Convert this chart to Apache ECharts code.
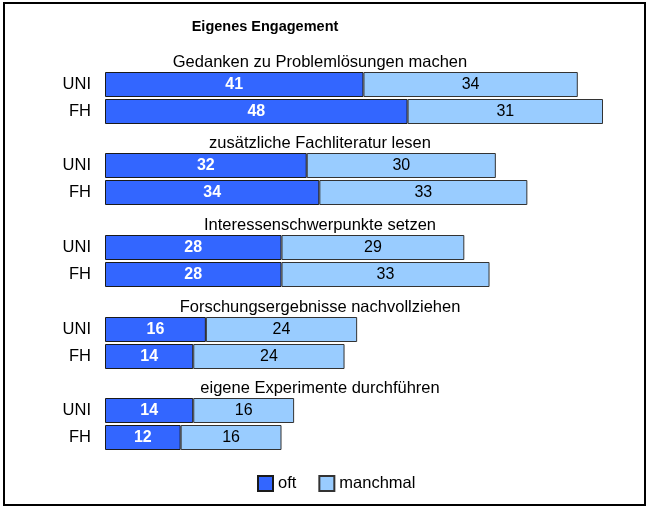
<!DOCTYPE html>
<html>
<head>
<meta charset="utf-8">
<script src="https://cdn.jsdelivr.net/npm/echarts@6/dist/echarts.min.js"></script>
<style>
  html, body { margin: 0; padding: 0; background: #fff; }
  #chart { width: 649px; height: 508px; }
</style>
</head>
<body>
<div id="chart"></div>
<script>
  // Eigenes Engagement - oft / manchmal, UNI vs FH
  const groups = [
    'Gedanken zu Problemlösungen machen',
    'zusätzliche Fachliteratur lesen',
    'Interessenschwerpunkte setzen',
    'Forschungsergebnisse nachvollziehen',
    'eigene Experimente durchführen'
  ]
  const rows = ['UNI', 'FH']
  const oftUni = [41, 32, 28, 16, 14]
  const manchmalUni = [34, 30, 29, 24, 16]
  const oftFh = [48, 34, 28, 14, 12]
  const manchmalFh = [31, 33, 33, 24, 16]

  const font = 'Liberation Sans'
  const gridTops = [71, 152, 234, 316, 397]

  const grid = []
  const xAxis = []
  const yAxis = []
  const series = []
  const title = [{
    text: 'Eigenes Engagement',
    left: 260,
    top: 14,
    textAlign: 'center',
    textStyle: { fontFamily: font, fontSize: 14.5, fontWeight: 'bold', color: '#000' }
  }]

  groups.forEach((g, i) => {
    grid.push({ left: 105, width: 498, top: gridTops[i], height: 54 })
    xAxis.push({ gridIndex: i, type: 'value', min: 0, max: 79, show: false })
    yAxis.push({
      gridIndex: i,
      type: 'category',
      data: rows,
      inverse: true,
      axisLine: { show: false },
      axisTick: { show: false },
      axisLabel: { margin: 14, color: '#000', fontFamily: font, fontSize: 16.5 }
    })
    title.push({
      text: g,
      left: 315,
      top: gridTops[i] - 22,
      textAlign: 'center',
      textStyle: { fontFamily: font, fontSize: 16.5, fontWeight: 'normal', color: '#000' }
    })
    series.push({
      name: 'oft',
      type: 'bar',
      stack: 's' + i,
      xAxisIndex: i,
      yAxisIndex: i,
      barWidth: 25,
      data: [oftUni[i], oftFh[i]],
      itemStyle: { color: '#3366ff', borderColor: '#1a1a1a', borderWidth: 1 },
      label: { show: true, position: 'inside', color: '#fff', fontWeight: 'bold', fontFamily: font, fontSize: 16 }
    })
    series.push({
      name: 'manchmal',
      type: 'bar',
      stack: 's' + i,
      xAxisIndex: i,
      yAxisIndex: i,
      barWidth: 25,
      data: [manchmalUni[i], manchmalFh[i]],
      itemStyle: { color: '#99ccff', borderColor: '#333', borderWidth: 1 },
      label: { show: true, position: 'inside', color: '#000', fontFamily: font, fontSize: 16 }
    })
  })

  const chart = echarts.init(document.getElementById('chart'))
  chart.setOption({
    animation: false,
    title: title,
    grid: grid,
    xAxis: xAxis,
    yAxis: yAxis,
    series: series,
    legend: {
      data: ['oft', 'manchmal'],
      icon: 'rect',
      left: 252,
      top: 470,
      itemWidth: 15,
      itemHeight: 15,
      itemGap: 22,
      textStyle: { fontFamily: font, fontSize: 16.5, color: '#000' }
    },
    graphic: [{
      type: 'rect',
      shape: { x: 4, y: 3, width: 641, height: 502 },
      style: { fill: 'none', stroke: '#000', lineWidth: 2 },
      silent: true
    }]
  })
  window.addEventListener('resize', () => chart.resize())
</script>
</body>
</html>
